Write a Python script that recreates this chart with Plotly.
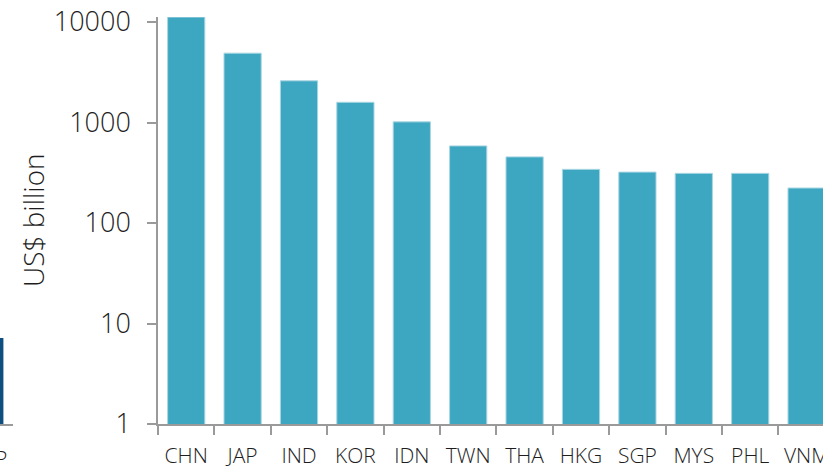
import plotly.graph_objects as go

# Nominal GDP by economy (US$ billion), log scale
countries = ["CHN", "JAP", "IND", "KOR", "IDN", "TWN", "THA", "HKG", "SGP", "MYS", "PHL", "VNM"]
gdp_usd_bn = [11200, 4900, 2600, 1590, 1015, 585, 455, 342, 321, 312, 312, 223]

# Neighbouring panel (only its edge falls inside the frame)
side_categories = ["GDP"]
side_values = [20.3]

W, H = 823, 472
FONT = "Open Sans"
TEXT = "#1e1e1e"
AXIS_GREY = "#9a9a9a"
BAR_BLUE = "#3da6c0"
DARK_BLUE = "#0e4f80"

plot_left = 158
plot_bottom = 424
plot_top = 17
cat_w = 56.4

fig = go.Figure()

fig.add_trace(go.Bar(
    x=countries, y=gdp_usd_bn,
    marker=dict(color=BAR_BLUE, line=dict(color="#a9d6e2", width=1)),
    width=0.66, xaxis="x", yaxis="y", showlegend=False,
))

fig.add_trace(go.Bar(
    x=side_categories, y=side_values,
    marker=dict(color=DARK_BLUE, line=dict(width=0)),
    width=0.66, xaxis="x2", yaxis="y2", showlegend=False,
))

n_vis = (W - plot_left) / cat_w
left_w = 13

fig.update_layout(
    template="none",
    width=W, height=H,
    margin=dict(l=0, r=0, t=0, b=H - plot_bottom, autoexpand=False),
    paper_bgcolor="white", plot_bgcolor="white",
    xaxis=dict(
        domain=[plot_left / W, 1],
        range=[-0.5, -0.5 + n_vis],
        type="category", automargin=False,
        showline=True, linecolor=AXIS_GREY, linewidth=1.5,
        ticks="outside", tickson="boundaries", ticklen=9, tickcolor=AXIS_GREY, tickwidth=1.5,
        tickangle=0,
        tickfont=dict(family=FONT, size=21, color=TEXT, weight=300),
        ticklabelstandoff=12,
        showgrid=False, zeroline=False,
    ),
    yaxis=dict(
        type="log", automargin=False,
        domain=[0, (plot_bottom - plot_top) / plot_bottom],
        range=[0, 4.05],
        anchor="x",
        showline=True, linecolor=AXIS_GREY, linewidth=1.5,
        ticks="outside", ticklen=9, tickcolor=AXIS_GREY, tickwidth=1.5,
        tickvals=[1, 10, 100, 1000, 10000],
        ticktext=["1", "10", "100", "1000", "10000"],
        tickfont=dict(family=FONT, size=27, color=TEXT, weight=300),
        ticklabelstandoff=11,
        showgrid=False, zeroline=False,
    ),
    xaxis2=dict(
        domain=[0, left_w / W],
        range=[0.5 - left_w / cat_w, 0.5],
        type="category", automargin=False,
        anchor="y2",
        showline=True, linecolor=AXIS_GREY, linewidth=1.5,
        ticks="outside", tickson="boundaries", ticklen=9, tickcolor=AXIS_GREY, tickwidth=1.5,
        showticklabels=False,
        showgrid=False, zeroline=False,
    ),
    yaxis2=dict(
        domain=[0, 1],
        range=[0, 100],
        anchor="x2",
        visible=False,
    ),
    annotations=[
        dict(
            text="US$ billion", textangle=-90,
            x=33, y=H - 220, xref="paper", yref="paper",
            xanchor="center", yanchor="middle",
            showarrow=False,
            font=dict(family=FONT, size=28, color=TEXT, weight=300),
        ),
        dict(
            text=side_categories[0],
            x=-14, y=H - 458, xref="paper", yref="paper",
            xanchor="center", yanchor="middle",
            showarrow=False,
            font=dict(family=FONT, size=21, color=TEXT, weight=300),
        ),
    ],
)

# annotation positions above are in pixels; convert to paper fractions
for a in fig.layout.annotations:
    a.x = a.x / W
    a.y = (a.y - (H - plot_bottom)) / plot_bottom

fig.write_html("out.html")
